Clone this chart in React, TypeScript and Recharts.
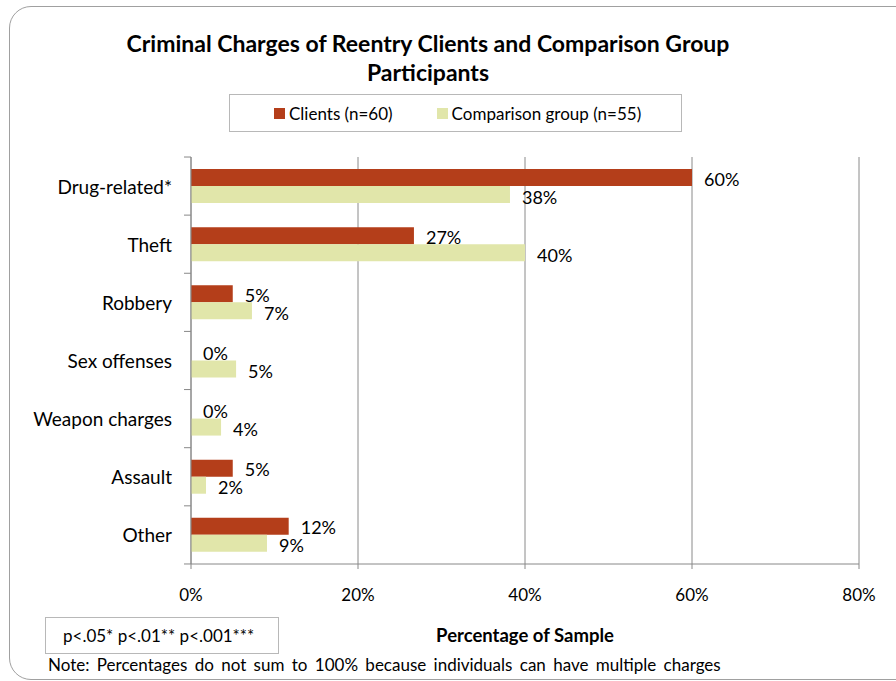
import { BarChart, Bar, XAxis, YAxis, CartesianGrid, LabelList } from 'recharts';

const categories = ['Drug-related*', 'Theft', 'Robbery', 'Sex offenses', 'Weapon charges', 'Assault', 'Other'];
const clients = [60, 26.7, 5, 0, 0, 5, 11.7];
const comparison = [38.2, 40, 7.3, 5.4, 3.6, 1.8, 9.1];
const xTicks = [0, 20, 40, 60, 80];

const data = categories.map((name, i) => ({ name, clients: clients[i], comparison: comparison[i] }));

const FONT = 'Lato, "Open Sans", sans-serif';
const RED = '#B43E1A';
const GREEN = '#E1E6AA';

// category ticks sit between the bars in the original, so draw them by hand
const CategoryTick = (props: any) => {
  const { x, y, payload, index } = props;
  const half = 58.1 / 2;
  return (
    <g>
      <line x1={x + 12} x2={x + 19} y1={y + half} y2={y + half} stroke="#888" />
      {index === 0 && <line x1={x + 12} x2={x + 19} y1={y - half} y2={y - half} stroke="#888" />}
      <text x={x} y={y} textAnchor="end" dominantBaseline="central" fontSize={19} fill="#000" fontFamily={FONT}>
        {payload.value}
      </text>
    </g>
  );
};

const valueLabel = (dy: number) => (props: any) => {
  const { x, y, width, height, value } = props;
  return (
    <text
      x={x + width + 12}
      y={y + height / 2 + dy}
      dominantBaseline="central"
      fontSize={18}
      fill="#000"
      fontFamily={FONT}
    >
      {Math.round(value)}%
    </text>
  );
};

export default function App() {
  return (
    <div style={{ position: 'fixed', left: 0, top: 0, width: 896, height: 681, overflow: 'hidden', background: '#fff', fontFamily: FONT }}>
      <div
        style={{
          position: 'absolute',
          left: 9,
          top: 6,
          width: 940,
          height: 672,
          border: '1px solid #a0a0a0',
          borderRadius: 22,
        }}
      />
      <div
        style={{
          position: 'absolute',
          left: 0,
          top: 29,
          width: 856,
          textAlign: 'center',
          fontWeight: 700,
          fontSize: 23,
          lineHeight: '29px',
        }}
      >
        Criminal Charges of Reentry Clients and Comparison Group
        <br />
        Participants
      </div>
      <div
        style={{
          position: 'absolute',
          left: 229,
          top: 94,
          width: 451,
          height: 36,
          border: '1px solid #b8b8b8',
          display: 'flex',
          alignItems: 'center',
          fontSize: 17,
        }}
      >
        <span style={{ display: 'inline-block', width: 11, height: 11, background: RED, marginLeft: 44, marginRight: 4 }} />
        <span>Clients (n=60)</span>
        <span style={{ display: 'inline-block', width: 11, height: 11, background: GREEN, marginLeft: 44, marginRight: 4 }} />
        <span>Comparison group (n=55)</span>
      </div>
      <BarChart
        width={896}
        height={681}
        data={data}
        layout="vertical"
        margin={{ top: 157, right: 37, left: 20, bottom: 37 }}
        barSize={17}
        barGap={0}
        style={{ position: 'absolute', left: 0, top: 0 }}
      >
        <CartesianGrid xAxisId="bottom" horizontal={false} vertical stroke="#8a8a8a" />
        <XAxis
          xAxisId="top"
          orientation="top"
          type="number"
          domain={[0, 80]}
          ticks={xTicks}
          height={0}
          tick={false}
          tickLine={false}
          axisLine={{ stroke: '#c8c8c8' }}
        />
        <XAxis
          xAxisId="bottom"
          type="number"
          domain={[0, 80]}
          ticks={xTicks}
          height={80}
          tickFormatter={(v: number) => `${v}%`}
          tickSize={5}
          tickMargin={20}
          tick={{ fontSize: 17, fill: '#000', fontFamily: FONT }}
          tickLine={{ stroke: '#888' }}
          axisLine={{ stroke: '#888' }}
          label={{
            value: 'Percentage of Sample',
            position: 'insideBottom',
            offset: 2,
            fontSize: 18.5,
            fontWeight: 700,
            fill: '#000',
            fontFamily: FONT,
          }}
        />
        <YAxis
          type="category"
          dataKey="name"
          width={171}
          tickSize={7}
          tickMargin={12}
          tickLine={false}
          axisLine={{ stroke: '#888' }}
          tick={<CategoryTick />}
          interval={0}
        />
        <Bar xAxisId="bottom" dataKey="clients" fill={RED} minPointSize={0.01} isAnimationActive={false}>
          <LabelList dataKey="clients" content={valueLabel(1)} />
        </Bar>
        <Bar xAxisId="bottom" dataKey="comparison" fill={GREEN} minPointSize={0.01} isAnimationActive={false}>
          <LabelList dataKey="comparison" content={valueLabel(2)} />
        </Bar>
      </BarChart>
      <div
        style={{
          position: 'absolute',
          left: 45,
          top: 617,
          width: 234,
          height: 37,
          border: '1px solid #b8b8b8',
          display: 'flex',
          alignItems: 'center',
          paddingLeft: 17,
          boxSizing: 'border-box',
          fontSize: 17,
        }}
      >
        p&lt;.05* p&lt;.01** p&lt;.001***
      </div>
      <div style={{ position: 'absolute', left: 48, top: 654, fontSize: 17, wordSpacing: 3 }}>
        Note: Percentages do not sum to 100% because individuals can have multiple charges
      </div>
    </div>
  );
}
